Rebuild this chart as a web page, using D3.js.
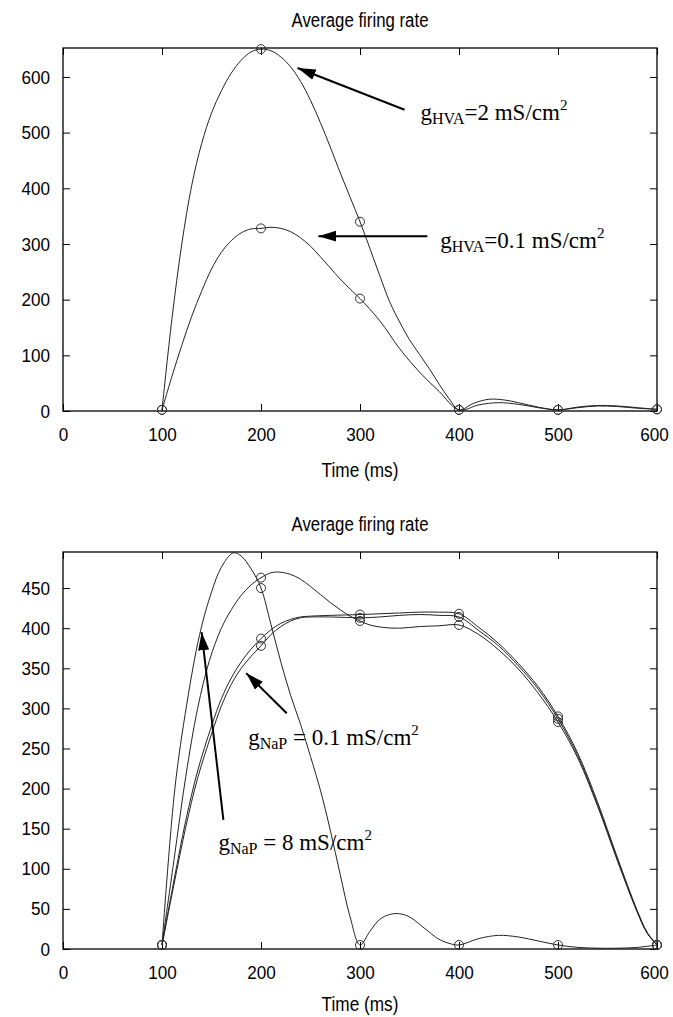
<!DOCTYPE html>
<html>
<head>
<meta charset="utf-8">
<script src="https://cdn.jsdelivr.net/npm/d3@7"></script>
<style>
  body { margin: 0; background: #fff; overflow: hidden; }
  .axis text { font-family: "Liberation Sans", Arial, sans-serif; font-size: 19px; fill: #000; }
  .axis line { stroke: #000; stroke-width: 1; }
  .title, .xlabel { font-family: "Liberation Sans", Arial, sans-serif; font-size: 20px; }
  .note { font-family: "Liberation Serif", "Times New Roman", serif; font-size: 23px; }
</style>
</head>
<body>
<div class="viz"></div>
<script>
var width = 673,
    height = 1017,
    xTicks = [ 0, 100, 200, 300, 400, 500, 600 ],
    topYTicks = [ 0, 100, 200, 300, 400, 500, 600 ],
    botYTicks = [ 0, 50, 100, 150, 200, 250, 300, 350, 400, 450 ];

// top panel: marker points every 100 ms
var markT = [ 100, 200, 300, 400, 500, 600 ];
var hva2Marks = [ 2, 650, 340, 2, 2, 3 ];
var hva01Marks = [ 2, 328, 202, 2, 2, 3 ];

// top panel: traced curves
var hva2Curve = [ [ 100, 2 ], [ 110, 165 ], [ 120, 300 ], [ 130, 405 ], [ 140, 480 ], [ 150, 535 ],
    [ 160, 575 ], [ 170, 607 ], [ 180, 630 ], [ 190, 645 ], [ 200, 650 ], [ 210, 647 ], [ 220, 636 ], [ 230, 618 ],
    [ 240, 592 ], [ 250, 558 ], [ 260, 518 ], [ 270, 474 ], [ 280, 428 ], [ 290, 384 ], [ 300, 340 ], [ 310, 292 ],
    [ 320, 243 ], [ 330, 196 ], [ 340, 160 ], [ 350, 128 ], [ 360, 102 ], [ 370, 76 ], [ 380, 48 ], [ 390, 22 ],
    [ 400, 2 ], [ 415, 14 ], [ 430, 21 ], [ 445, 20 ], [ 460, 15 ], [ 480, 7 ], [ 500, 2 ], [ 520, 7 ],
    [ 540, 10 ], [ 560, 9 ], [ 580, 6 ], [ 600, 3 ] ];
var hva01Curve = [ [ 100, 2 ], [ 110, 62 ], [ 120, 118 ], [ 130, 170 ], [ 140, 215 ], [ 150, 255 ], [ 160, 285 ],
    [ 170, 306 ], [ 180, 320 ], [ 190, 327 ], [ 200, 328 ], [ 210, 330 ], [ 220, 328 ], [ 230, 322 ], [ 240, 311 ],
    [ 250, 296 ], [ 260, 277 ], [ 270, 257 ], [ 280, 237 ], [ 290, 219 ], [ 300, 202 ], [ 320, 162 ], [ 340, 112 ],
    [ 360, 70 ], [ 380, 35 ], [ 400, 2 ], [ 420, 11 ], [ 440, 15 ], [ 460, 12 ], [ 480, 6 ], [ 500, 2 ],
    [ 520, 6 ], [ 540, 9 ], [ 560, 8 ], [ 580, 5 ], [ 600, 3 ] ];

// bottom panel: marker values at markT
var nap8Marks = [ 5, 450, 5, 5, 5, 5 ];
var napAMarks = [ 5, 463, 409, 404, 283, 5 ];
var napBMarks = [ 5, 387, 417, 418, 290, 5 ];
var napCMarks = [ 5, 378, 413, 414, 287, 5 ];

// bottom panel: traced curves
var nap8Curve = [ [ 100, 5 ], [ 113, 200 ], [ 125, 305 ], [ 138, 392 ], [ 150, 445 ], [ 160, 476 ],
    [ 172, 494 ], [ 180, 490 ], [ 190, 474 ], [ 200, 450 ], [ 210, 405 ], [ 220, 358 ], [ 230, 316 ],
    [ 240, 280 ], [ 250, 240 ], [ 260, 198 ], [ 270, 148 ], [ 280, 93 ], [ 290, 40 ], [ 300, 5 ], [ 310, 22 ],
    [ 320, 37 ], [ 330, 43 ], [ 340, 44 ], [ 350, 40 ], [ 360, 31 ], [ 370, 21 ], [ 380, 12 ], [ 390, 7 ],
    [ 400, 5 ], [ 420, 13 ], [ 440, 17 ], [ 460, 15 ], [ 480, 10 ], [ 500, 5 ], [ 520, 2 ], [ 540, 1 ],
    [ 560, 1 ], [ 580, 2 ], [ 600, 5 ] ];
var napACurve = [ [ 100, 5 ], [ 112, 110 ], [ 124, 215 ], [ 136, 300 ], [ 148, 360 ], [ 160, 400 ],
    [ 170, 423 ], [ 180, 441 ], [ 190, 454 ], [ 200, 463 ], [ 210, 469 ], [ 218, 470 ], [ 230, 467 ], [ 240, 461 ],
    [ 250, 452 ], [ 260, 442 ], [ 270, 432 ], [ 280, 423 ], [ 290, 415 ], [ 300, 409 ], [ 310, 404 ], [ 323, 401 ],
    [ 340, 400 ], [ 360, 402 ], [ 380, 403 ], [ 400, 404 ], [ 420, 392 ], [ 440, 373 ], [ 460, 349 ], [ 480, 319 ],
    [ 500, 283 ], [ 520, 238 ], [ 540, 178 ], [ 560, 110 ], [ 580, 46 ], [ 590, 20 ], [ 600, 5 ] ];
var napBCurve = [ [ 100, 5 ], [ 112, 85 ], [ 124, 160 ], [ 136, 222 ], [ 150, 278 ], [ 160, 312 ], [ 170, 338 ],
    [ 180, 358 ], [ 190, 374 ], [ 200, 387 ], [ 210, 398 ], [ 220, 406 ], [ 230, 411 ], [ 240, 414 ], [ 250, 415 ],
    [ 270, 416 ], [ 300, 417 ], [ 320, 418 ], [ 340, 419 ], [ 360, 420 ], [ 380, 420 ], [ 400, 418 ], [ 420, 401 ],
    [ 440, 381 ], [ 460, 356 ], [ 480, 327 ], [ 500, 290 ], [ 520, 244 ], [ 540, 183 ], [ 560, 114 ], [ 580, 48 ],
    [ 590, 21 ], [ 600, 5 ] ];
var napCCurve = [ [ 100, 5 ], [ 112, 80 ], [ 124, 152 ], [ 136, 213 ], [ 150, 268 ], [ 160, 303 ],
    [ 170, 330 ], [ 180, 350 ], [ 190, 365 ], [ 200, 378 ], [ 210, 392 ], [ 220, 402 ], [ 230, 409 ], [ 240, 413 ],
    [ 250, 414 ], [ 270, 414 ], [ 300, 413 ], [ 320, 414 ], [ 340, 416 ], [ 360, 417 ], [ 380, 416 ], [ 400, 414 ],
    [ 420, 397 ], [ 440, 378 ], [ 460, 353 ], [ 480, 324 ], [ 500, 287 ], [ 520, 241 ], [ 540, 180 ], [ 560, 112 ],
    [ 580, 47 ], [ 590, 20 ], [ 600, 5 ] ];

// annotations: label position and arrow (tail -> tip), in data units
var topNotes = [
    { sub: "HVA", text: "=2 mS/cm", lx: 361, ly: 523, tail: [ 345, 541 ], tip: [ 237, 616 ] },
    { sub: "HVA", text: "=0.1 mS/cm", lx: 381, ly: 293, tail: [ 368, 314 ], tip: [ 258, 314 ] }
];
var botNotes = [
    { sub: "NaP", text: " = 0.1 mS/cm", lx: 187, ly: 254, tail: [ 226, 294 ], tip: [ 185, 344 ] },
    { sub: "NaP", text: " = 8 mS/cm", lx: 157, ly: 123, tail: [ 162, 161 ], tip: [ 140, 395 ] }
];

var svg = d3.select( ".viz" )
    .append( "svg" )
    .attr( "width", width )
    .attr( "height", height )
    .style( "display", "block" );

svg.append( "defs" ).append( "marker" )
    .attr( "id", "head" )
    .attr( "markerUnits", "userSpaceOnUse" )
    .attr( "markerWidth", 20 )
    .attr( "markerHeight", 12 )
    .attr( "refX", 18 )
    .attr( "refY", 6 )
    .attr( "orient", "auto" )
    .append( "path" )
    .attr( "d", "M0,0.5 L18,6 L0,11.5 z" )
    .attr( "fill", "#000" );

var x = d3.scaleLinear().domain( [ 0, 600 ] ).range( [ 63, 657 ] );

// squeeze a sans text horizontally so it reads like the condensed original
function narrow( sel, k ) {
    sel.each( function() {
        var len = this.getComputedTextLength();
        d3.select( this ).attr( "textLength", len * k ).attr( "lengthAdjust", "spacingAndGlyphs" );
    } );
}

function drawPanel( opt ) {
    var y = d3.scaleLinear().domain( opt.yDomain ).range( [ opt.bottom, opt.top ] );
    var g = svg.append( "g" );

    g.append( "text" )
        .attr( "class", "title" )
        .attr( "x", ( x.range()[ 0 ] + x.range()[ 1 ] ) / 2 )
        .attr( "y", opt.top - 21 )
        .attr( "text-anchor", "middle" )
        .text( "Average firing rate" )
        .call( narrow, 0.84 );

    var xAxis = g.append( "g" ).attr( "class", "axis" )
        .attr( "transform", "translate(0," + opt.bottom + ")" )
        .call( d3.axisBottom( x ).tickValues( xTicks ).tickSize( -7 ).tickPadding( 17 ) )
        .call( function( s ) { s.select( ".domain" ).remove(); } );
    // keep the last label inside the page edge
    xAxis.selectAll( ".tick text" ).filter( function( d ) { return d === 600; } ).attr( "dx", -3 );

    g.append( "g" ).attr( "class", "axis" )
        .attr( "transform", "translate(0," + opt.top + ")" )
        .call( d3.axisTop( x ).tickValues( xTicks ).tickSize( -7 ).tickFormat( "" ) )
        .call( function( s ) { s.select( ".domain" ).remove(); } );
    g.append( "g" ).attr( "class", "axis" )
        .attr( "transform", "translate(" + x.range()[ 0 ] + ",0)" )
        .call( d3.axisLeft( y ).tickValues( opt.yTicks ).tickSize( -7 ).tickPadding( 13 ) )
        .call( function( s ) { s.select( ".domain" ).remove(); } );
    g.append( "g" ).attr( "class", "axis" )
        .attr( "transform", "translate(" + x.range()[ 1 ] + ",0)" )
        .call( d3.axisRight( y ).tickValues( opt.yTicks ).tickSize( -7 ).tickFormat( "" ) )
        .call( function( s ) { s.select( ".domain" ).remove(); } );
    g.selectAll( ".axis text" ).call( narrow, 0.9 );

    g.append( "rect" )
        .attr( "x", x.range()[ 0 ] )
        .attr( "y", opt.top )
        .attr( "width", x.range()[ 1 ] - x.range()[ 0 ] )
        .attr( "height", opt.bottom - opt.top )
        .attr( "fill", "none" )
        .attr( "stroke", "#000" )
        .attr( "stroke-width", 1.3 );

    g.append( "text" )
        .attr( "class", "xlabel" )
        .attr( "x", ( x.range()[ 0 ] + x.range()[ 1 ] ) / 2 )
        .attr( "y", opt.bottom + opt.xlabelGap )
        .attr( "text-anchor", "middle" )
        .text( "Time (ms)" )
        .call( narrow, 0.86 );

    var line = d3.line()
        .x( function( d ) { return x( d[ 0 ] ); } )
        .y( function( d ) { return y( d[ 1 ] ); } )
        .curve( d3.curveCatmullRom.alpha( 0.5 ) );

    opt.series.forEach( function( s ) {
        g.append( "path" )
            .datum( s.curve )
            .attr( "d", line )
            .attr( "fill", "none" )
            .attr( "stroke", "#222" )
            .attr( "stroke-width", 1 );

        g.selectAll( null )
            .data( s.marks )
            .enter()
            .append( "circle" )
            .attr( "cx", function( d, i ) { return x( markT[ i ] ); } )
            .attr( "cy", function( d ) { return y( d ); } )
            .attr( "r", 4.5 )
            .attr( "fill", "none" )
            .attr( "stroke", "#333" )
            .attr( "stroke-width", 1 );
    } );

    opt.notes.forEach( function( n ) {
        g.append( "line" )
            .attr( "x1", x( n.tail[ 0 ] ) )
            .attr( "y1", y( n.tail[ 1 ] ) )
            .attr( "x2", x( n.tip[ 0 ] ) )
            .attr( "y2", y( n.tip[ 1 ] ) )
            .attr( "stroke", "#000" )
            .attr( "stroke-width", 2 )
            .attr( "marker-end", "url(#head)" );

        var t = g.append( "text" )
            .attr( "class", "note" )
            .attr( "x", x( n.lx ) )
            .attr( "y", y( n.ly ) );
        t.append( "tspan" ).text( "g" );
        t.append( "tspan" ).attr( "font-size", 16 ).attr( "dy", 4 ).text( n.sub );
        t.append( "tspan" ).attr( "dy", -4 ).text( n.text );
        t.append( "tspan" ).attr( "font-size", 15 ).attr( "dy", -10 ).text( "2" );
    } );
}

drawPanel( {
    top: 48,
    bottom: 411,
    xlabelGap: 66,
    yDomain: [ 0, 652 ],
    yTicks: topYTicks,
    series: [ { curve: hva2Curve, marks: hva2Marks }, { curve: hva01Curve, marks: hva01Marks } ],
    notes: topNotes
} );

drawPanel( {
    top: 552,
    bottom: 949,
    xlabelGap: 62,
    yDomain: [ 0, 495 ],
    yTicks: botYTicks,
    series: [
        { curve: nap8Curve, marks: nap8Marks },
        { curve: napACurve, marks: napAMarks },
        { curve: napBCurve, marks: napBMarks },
        { curve: napCCurve, marks: napCMarks }
    ],
    notes: botNotes
} );
</script>
</body>
</html>
